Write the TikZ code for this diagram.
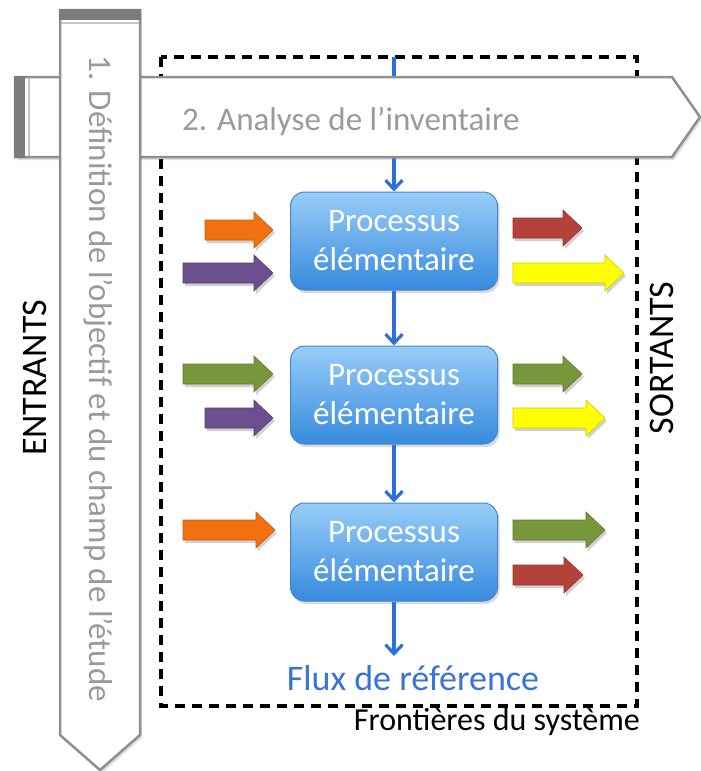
\documentclass[tikz,border=0pt]{standalone}
\usepackage{fontspec}
\setmainfont{Carlito}
\usetikzlibrary{arrows.meta,shadows}
\definecolor{bandgray}{HTML}{8F8F8F}
\definecolor{capgray}{HTML}{7C7C7C}
\definecolor{txtgray}{HTML}{9A9A9A}
\definecolor{boxtop}{HTML}{98CDF8}
\definecolor{boxbot}{HTML}{368ADE}
\definecolor{boxedge}{HTML}{4A86C6}
\definecolor{flowblue}{HTML}{2F6FD9}
\definecolor{fluxtxt}{HTML}{3A72D8}
\definecolor{aorange}{HTML}{F2700F}
\definecolor{apurple}{HTML}{6B4F8F}
\definecolor{ared}{HTML}{B5413B}
\definecolor{ayellow}{HTML}{FFFF00}
\definecolor{agreen}{HTML}{78973D}
\newcommand\fatarrowpath[3]{(#1,#3-10) -- (#2-19,#3-10) -- (#2-19,#3-18) -- (#2,#3) -- (#2-19,#3+18) -- (#2-19,#3+10) -- (#1,#3+10) -- cycle}
\newcommand\fatarrow[4]{%
  \fill[black,opacity=0.18,xshift=2pt,yshift=-3pt] \fatarrowpath{#1}{#2}{#3};
  \filldraw[fill=#4,draw=#4!80!black,line width=0.6pt] \fatarrowpath{#1}{#2}{#3};
}
\begin{document}
\begin{tikzpicture}[x=1pt,y=-1pt,
  band/.style={draw=bandgray,line width=2.5pt,fill=white,
    drop shadow={opacity=0.25,shadow xshift=2pt,shadow yshift=-3pt}},
  bandtxt/.style={text=txtgray,font=\fontsize{33}{40}\selectfont,inner sep=0pt},
  proc/.style={rounded corners=14pt,minimum width=207pt,minimum height=98pt,
    top color=boxtop,bottom color=boxbot,draw=boxedge,line width=1pt,
    text=white,align=center,font=\fontsize{33}{39}\selectfont,
    drop shadow={opacity=0.3,shadow xshift=2pt,shadow yshift=-3pt}},
  flow/.style={draw=flowblue,line width=3.2pt,-{Straight Barb[length=9pt,width=17pt]}},
  boundary/.style={draw=black,line width=3.2pt,dash pattern=on 10pt off 7pt},
  sidelbl/.style={font=\fontsize{36}{40}\selectfont,rotate=90,inner sep=0pt}]
\useasboundingbox (0,0) rectangle (701,771);
% system boundary
\draw[boundary] (161,57) rectangle (637,706);
% process boxes
\node[proc] (p1) at (394,241) {Processus\\élémentaire};
\node[proc] (p2) at (394,395) {Processus\\élémentaire};
\node[proc] (p3) at (394,552) {Processus\\élémentaire};
\coordinate (fin) at (394,57);
\coordinate (fout) at (394,656);
\draw[flow] (fin) -- (p1.north);
\draw[flow] (p1.south) -- (p2.north);
\draw[flow] (p2.south) -- (p3.north);
\draw[flow] (p3.south) -- (fout);
% horizontal band
\path[band] (15,77) -- (672,77) -- (700,117) -- (672,157) -- (15,157) -- cycle;
\fill[capgray] (14,76) rectangle (25,158);
\draw[gray!45,line width=1.5pt] (29,78) -- (29,156);
\node[bandtxt,anchor=base west] (t2) at (182,130) {2. Analyse de l’inventaire};
% vertical band
\path[band] (60,10) -- (140,10) -- (140,735) -- (100,770) -- (60,735) -- cycle;
\fill[capgray] (59,9) rectangle (141,20);
\draw[gray!45,line width=1.5pt] (61,23) -- (139,23);
\node[bandtxt,rotate=-90] (t1) at (98,379) {1. Définition de l’objectif et du champ de l’étude};
% inputs / outputs
\fatarrow{205}{273}{230}{aorange}
\fatarrow{183}{273}{273}{apurple}
\fatarrow{513}{582}{228}{ared}
\fatarrow{513}{624}{273}{ayellow}
\fatarrow{183}{273}{374}{agreen}
\fatarrow{205}{273}{418}{apurple}
\fatarrow{513}{582}{374}{agreen}
\fatarrow{513}{605}{418}{ayellow}
\fatarrow{183}{275}{530}{aorange}
\fatarrow{513}{605}{530}{agreen}
\fatarrow{513}{583}{575}{ared}
% labels
\node[sidelbl] (ent) at (35,378) {ENTRANTS};
\node[sidelbl] (sor) at (662,358) {SORTANTS};
\node[text=fluxtxt,font=\fontsize{36}{40}\selectfont,anchor=base,inner sep=0pt] (flux) at (413,690) {Flux de référence};
\node[font=\fontsize{32}{36}\selectfont,anchor=base east,inner sep=0pt] (front) at (640,730) {Frontières du système};
\end{tikzpicture}
\end{document}
